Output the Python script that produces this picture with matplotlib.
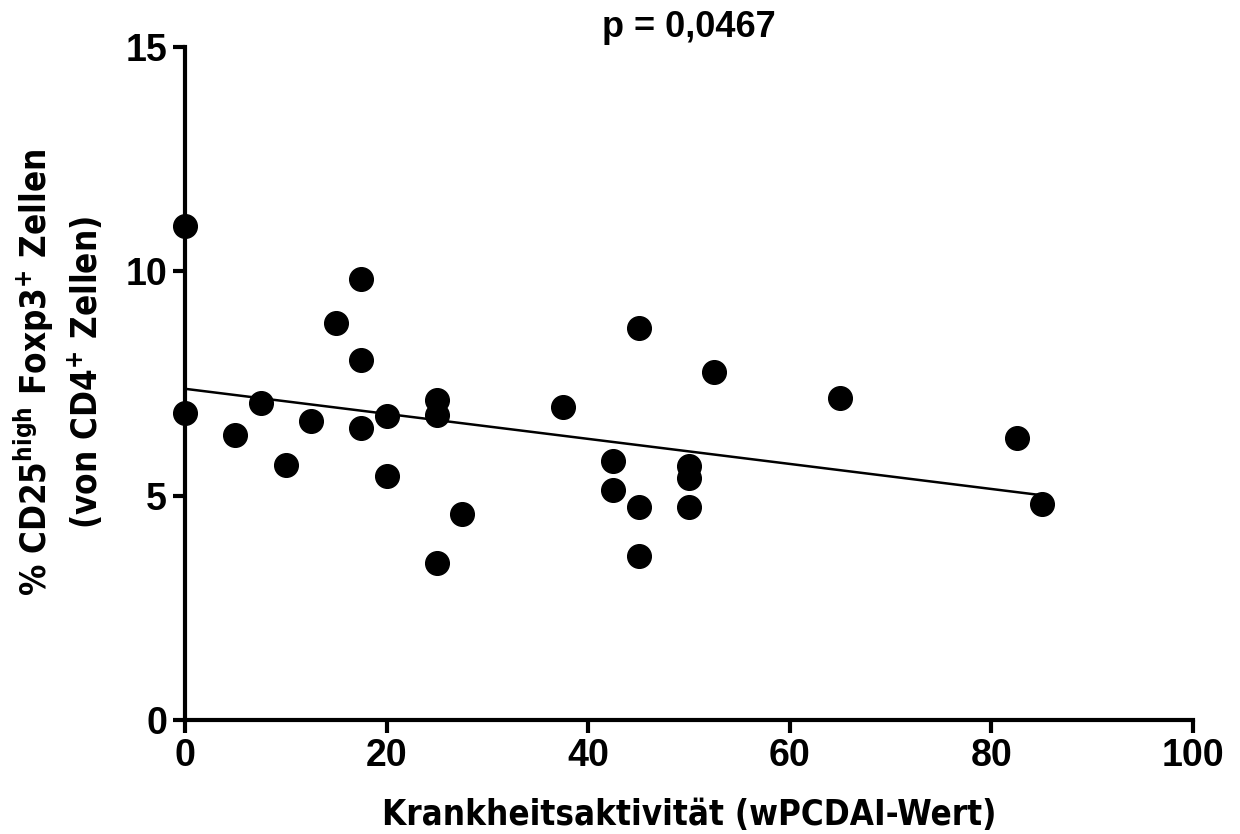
import matplotlib.pyplot as plt
import numpy as np

# wPCDAI score vs. % CD25high Foxp3+ cells
wpcdai = [0, 0, 5, 7.5, 10, 12.5, 15, 17.5, 17.5, 17.5, 20, 20, 25, 25, 25, 27.5,
          37.5, 42.5, 42.5, 45, 45, 45, 50, 50, 50, 52.5, 65, 82.5, 85]
treg = [11.0, 6.84, 6.35, 7.07, 5.68, 6.66, 8.85, 9.83, 8.02, 6.51, 6.78, 5.44,
        7.13, 6.80, 3.50, 4.59, 6.98, 5.77, 5.13, 8.74, 4.75, 3.66, 5.66, 5.39,
        4.75, 7.76, 7.18, 6.28, 4.81]
x_ticks = [0, 20, 40, 60, 80, 100]
y_ticks = [0, 5, 10, 15]
p_text = "p = 0,0467"

plt.rcParams['font.family'] = ['Liberation Sans', 'DejaVu Sans']
plt.rcParams['font.weight'] = 'bold'
plt.rcParams['mathtext.default'] = 'regular'

fig = plt.figure(figsize=(12.4, 8.34), dpi=100)
ax = fig.add_axes([185 / 1240, 114 / 834, 1008 / 1240, 673 / 834])

ax.scatter(wpcdai, treg, s=290, color='black', zorder=3, clip_on=False)

# linear regression line
slope, intercept = np.polyfit(wpcdai, treg, 1)
xs = np.array([min(wpcdai), max(wpcdai)])
ax.plot(xs, intercept + slope * xs, color='black', lw=1.8, zorder=2)

ax.set_xlim(0, 100)
ax.set_ylim(0, 15)
ax.set_xticks(x_ticks)
ax.set_yticks(y_ticks)
for s in ['top', 'right']:
    ax.spines[s].set_visible(False)
for s in ['left', 'bottom']:
    ax.spines[s].set_linewidth(3)
ax.tick_params(width=3, length=9, labelsize=27, pad=4)
for lab in ax.get_xticklabels() + ax.get_yticklabels():
    lab.set_fontweight('bold')

ax.set_xlabel("Krankheitsaktivität (wPCDAI-Wert)", fontsize=25, fontweight='bold',
              family='DejaVu Sans', fontstretch='condensed', labelpad=17)
ax.set_ylabel("% CD25$^{high}$ Foxp3$^{+}$ Zellen\n(von CD4$^{+}$ Zellen)", fontsize=25,
              fontweight='bold', family='DejaVu Sans', fontstretch='condensed',
              linespacing=1.3)
ax.yaxis.set_label_coords(-0.079, 0.517)
ax.set_title(p_text, fontsize=26, fontweight='bold', pad=7)

fig.savefig("out.png", dpi=100)
